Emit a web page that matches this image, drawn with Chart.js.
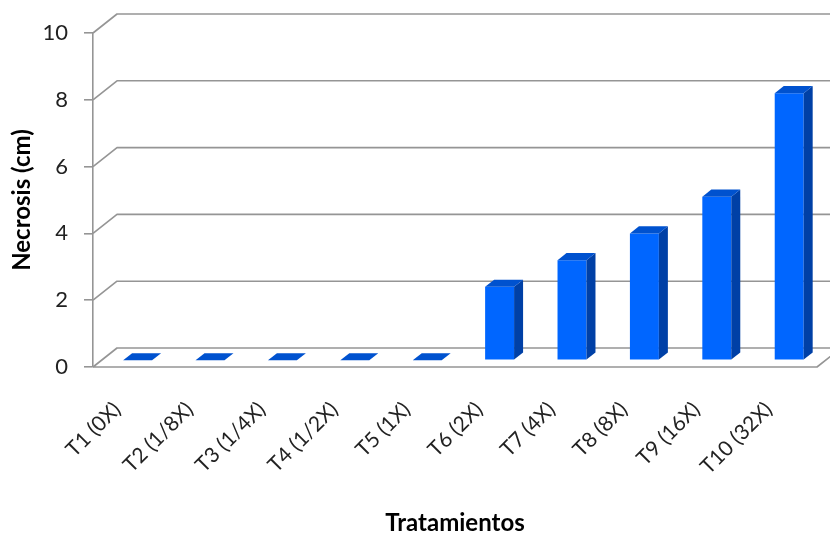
<!DOCTYPE html>
<html>
<head>
<meta charset="utf-8">
<script src="https://cdn.jsdelivr.net/npm/chart.js@4/dist/chart.umd.min.js"></script>
<style>
  html, body { margin: 0; padding: 0; background: #ffffff; }
  #wrap { width: 830px; height: 535px; }
</style>
</head>
<body>
<div id="wrap"><canvas id="chart" width="830" height="535"></canvas></div>
<script>
// Treatments (dose multiples) and measured necrosis length in cm
const categories = ['T1 (0X)', 'T2 (1/8X)', 'T3 (1/4X)', 'T4 (1/2X)', 'T5 (1X)',
                    'T6 (2X)', 'T7 (4X)', 'T8 (8X)', 'T9 (16X)', 'T10 (32X)'];
const necrosis = [0, 0, 0, 0, 0, 2.2, 3.0, 3.8, 4.9, 8.0];
const yTicks = [0, 2, 4, 6, 8, 10];

// Oblique projection used for the 3-D look: full floor depth and bar slab
const DEPTH = { dx: 24, dy: -19 };
const BAR_FRONT = 0.35;   // where the bar's front face sits within the floor
const BAR_DEPTH = 0.375;  // how deep each bar is, as a share of the floor
const GRID = '#959595';
const FACE_FRONT = '#0066ff';
const FACE_SIDE = '#0040a6';
const FACE_TOP = '#0052cf';
const FONT = 'Lato, "Liberation Sans", sans-serif';

const box3d = {
  id: 'box3d',
  beforeDatasetsDraw(chart) {
    const { ctx, chartArea: a, scales: { y } } = chart;
    ctx.save();
    ctx.strokeStyle = GRID;
    ctx.lineWidth = 1.6;
    ctx.lineJoin = 'round';
    ctx.beginPath();
    // back-wall gridlines, each joined to its tick on the front axis
    y.ticks.forEach(t => {
      const py = y.getPixelForValue(t.value);
      ctx.moveTo(a.left, py);
      ctx.lineTo(a.left + DEPTH.dx, py + DEPTH.dy);
      ctx.lineTo(a.right + DEPTH.dx + 40, py + DEPTH.dy);
    });
    // front and right edges of the floor
    const p0 = y.getPixelForValue(0);
    ctx.moveTo(a.left, p0);
    ctx.lineTo(a.right, p0);
    ctx.lineTo(a.right + DEPTH.dx, p0 + DEPTH.dy);
    ctx.stroke();
    ctx.restore();
    // bar front faces are drawn by Chart.js, pushed back into the floor
    ctx.save();
    ctx.translate(DEPTH.dx * BAR_FRONT, DEPTH.dy * BAR_FRONT);
  },
  afterDatasetsDraw(chart) {
    const { ctx } = chart;
    const bx = DEPTH.dx * BAR_DEPTH, by = DEPTH.dy * BAR_DEPTH;
    chart.getDatasetMeta(0).data.forEach(bar => {
      const { x, y, base, width } = bar.getProps(['x', 'y', 'base', 'width'], true);
      const l = x - width / 2, r = x + width / 2;
      if (base - y > 0.5) {
        ctx.fillStyle = FACE_SIDE;
        ctx.beginPath();
        ctx.moveTo(r, y);
        ctx.lineTo(r + bx, y + by);
        ctx.lineTo(r + bx, base + by);
        ctx.lineTo(r, base);
        ctx.closePath();
        ctx.fill();
      }
      ctx.fillStyle = FACE_TOP;
      ctx.beginPath();
      ctx.moveTo(l, y);
      ctx.lineTo(l + bx, y + by);
      ctx.lineTo(r + bx, y + by);
      ctx.lineTo(r, y);
      ctx.closePath();
      ctx.fill();
    });
    ctx.restore();
  }
};

new Chart(document.getElementById('chart'), {
  type: 'bar',
  data: {
    labels: categories,
    datasets: [{
      data: necrosis,
      backgroundColor: FACE_FRONT,
      borderWidth: 0,
      barPercentage: 0.4,
      categoryPercentage: 1.0
    }]
  },
  options: {
    responsive: false,
    animation: false,
    devicePixelRatio: 1,
    layout: { padding: { top: 33, right: 13, left: 0, bottom: 0 } },
    plugins: { legend: { display: false }, tooltip: { enabled: false } },
    scales: {
      x: {
        grid: { display: false },
        border: { display: false },
        ticks: {
          autoSkip: false,
          minRotation: 45,
          maxRotation: 45,
          padding: 22,
          labelOffset: -12,
          color: '#222',
          font: { family: FONT, size: 21 }
        },
        title: {
          display: true,
          text: 'Tratamientos',
          color: '#000',
          font: { family: FONT, size: 24, weight: 'bold', lineHeight: 1 },
          padding: { top: 0, bottom: 0 }
        },
        afterFit: s => { s.height = 168; }
      },
      y: {
        min: 0,
        max: 10,
        afterBuildTicks: s => { s.ticks = yTicks.map(v => ({ value: v })); },
        grid: { drawOnChartArea: false, drawTicks: true, tickLength: 9, color: GRID, lineWidth: 1.6 },
        border: { display: true, color: GRID, width: 1.6 },
        ticks: {
          padding: 16,
          color: '#222',
          font: { family: FONT, size: 22 }
        },
        title: {
          display: true,
          text: 'Necrosis (cm)',
          color: '#000',
          font: { family: FONT, size: 24, weight: 'bold', lineHeight: 1 },
          padding: { top: 10, bottom: 0 }
        },
        afterFit: s => { s.width = 93; }
      }
    }
  },
  plugins: [box3d]
});
</script>
</body>
</html>
